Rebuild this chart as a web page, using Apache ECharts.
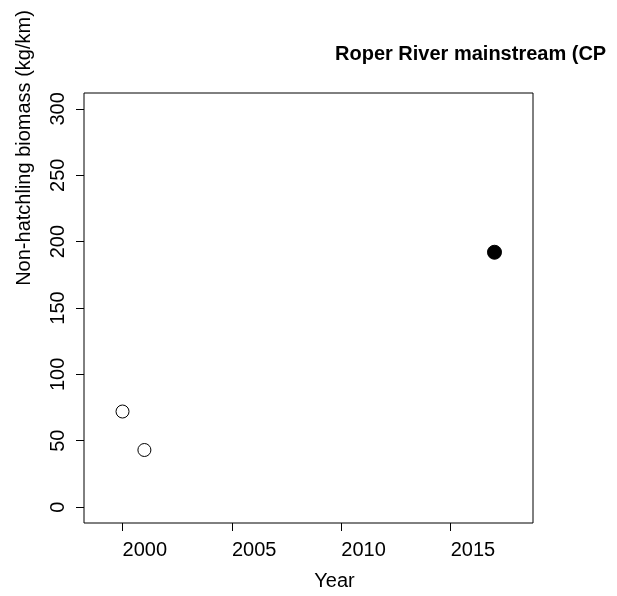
<!DOCTYPE html>
<html>
<head>
<meta charset="utf-8">
<script src="https://cdn.jsdelivr.net/npm/echarts@6/dist/echarts.min.js"></script>
<style>
  html, body { margin: 0; padding: 0; background: #fff; }
  #chart { width: 617px; height: 596px; }
</style>
</head>
<body>
<div id="chart"></div>
<script>
// Survey years and non-hatchling biomass estimates (kg/km)
const earlyYears = [2000, 2001];
const earlyBiomass = [72, 43];
const recentYears = [2017];
const recentBiomass = [192];

// Axis tick positions
const xTicks = [2000, 2005, 2010, 2015];
const yTicks = [0, 50, 100, 150, 200, 250, 300];

const FONT = 'Liberation Sans, Arial, sans-serif';

const chart = echarts.init(document.getElementById('chart'), null, { renderer: 'canvas' });

chart.setOption({
  backgroundColor: '#ffffff',
  animation: false,
  title: {
    text: 'Roper River mainstream (CP',
    left: 330,
    top: 39,
    textStyle: { fontFamily: FONT, fontWeight: 'bold', fontSize: 20, color: '#000', overflow: 'none', width: 400 }
  },
  grid: {
    left: 84, right: 84, top: 93, bottom: 73,
    outerBoundsMode: 'none',
    containLabel: false,
    show: true, borderColor: '#000', borderWidth: 1, backgroundColor: 'transparent'
  },
  xAxis: {
    type: 'value',
    min: 1998.24,
    max: 2018.76,
    name: 'Year',
    nameLocation: 'middle',
    nameGap: 48,
    nameTextStyle: { fontFamily: FONT, fontSize: 20, color: '#000', padding: [0, 0, 0, 52] },
    axisLine: { show: false, onZero: false },
    splitLine: { show: false },
    axisTick: {
      show: true, inside: false, length: 8,
      customValues: xTicks,
      lineStyle: { color: '#000', width: 1 }
    },
    axisLabel: {
      customValues: xTicks,
      formatter: v => String(v),
      align: 'left',
      margin: 17,
      fontFamily: FONT, fontSize: 20, color: '#000'
    }
  },
  yAxis: {
    type: 'value',
    min: -12,
    max: 312,
    axisLine: { show: false, onZero: false },
    splitLine: { show: false },
    axisTick: {
      show: true, inside: false, length: 8,
      customValues: yTicks,
      lineStyle: { color: '#000', width: 1 }
    },
    axisLabel: {
      customValues: yTicks,
      formatter: v => String(v),
      rotate: 90,
      margin: 16,
      fontFamily: FONT, fontSize: 20, color: '#000'
    }
  },
  graphic: [{
    type: 'text',
    x: 24,
    y: 148,
    rotation: Math.PI / 2,
    style: {
      text: 'Non-hatchling biomass (kg/km)',
      fontFamily: FONT, fontSize: 20, fill: '#000',
      align: 'center', verticalAlign: 'middle'
    }
  }],
  series: [
    {
      type: 'scatter',
      symbol: 'circle',
      symbolSize: 13,
      data: earlyYears.map((y, i) => [y, earlyBiomass[i]]),
      itemStyle: { color: '#fff', borderColor: '#000', borderWidth: 1, opacity: 1 }
    },
    {
      type: 'scatter',
      symbol: 'circle',
      symbolSize: 14,
      data: recentYears.map((y, i) => [y, recentBiomass[i]]),
      itemStyle: { color: '#000', borderColor: '#000', borderWidth: 1, opacity: 1 }
    }
  ]
});
</script>
</body>
</html>
